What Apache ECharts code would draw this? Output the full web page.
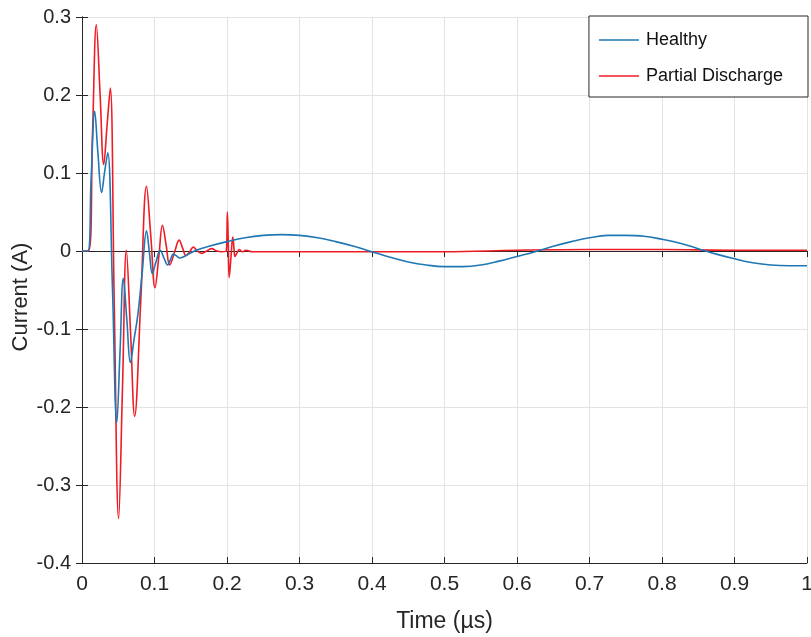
<!DOCTYPE html>
<html>
<head>
<meta charset="utf-8">
<script src="https://cdn.jsdelivr.net/npm/echarts@6/dist/echarts.min.js"></script>
<style>
  html, body { margin: 0; padding: 0; background: #fff; }
  #chart { width: 811px; height: 637px; }
</style>
</head>
<body>
<div id="chart"></div>
<script>
// Sampled current waveforms (time in µs, current in A)
const healthyTime = [
  0, 0.008, 0.0125, 0.0175, 0.022, 0.027, 0.031, 0.0355, 0.042, 0.048,
  0.0525, 0.057, 0.062, 0.0667, 0.072, 0.077, 0.083, 0.089, 0.093, 0.097,
  0.102, 0.108, 0.113, 0.118, 0.122, 0.126, 0.130, 0.135, 0.141, 0.147,
  0.158, 0.175, 0.2, 0.225, 0.25, 0.275, 0.3, 0.325, 0.35, 0.375,
  0.4, 0.425, 0.45, 0.475, 0.5, 0.525, 0.55, 0.575, 0.6, 0.625,
  0.65, 0.675, 0.7, 0.725, 0.75, 0.775, 0.8, 0.825, 0.85, 0.875,
  0.9, 0.925, 0.95, 0.975, 1.0
];
const healthyCurrent = [
  0, 0, 0.09, 0.179, 0.125, 0.075, 0.100, 0.126, -0.047, -0.220,
  -0.128, -0.035, -0.090, -0.143, -0.112, -0.082, -0.028, 0.026, -0.002, -0.029,
  -0.014, 0.001, -0.009, -0.018, -0.011, -0.004, -0.006, -0.009, -0.007, -0.004,
  0.001, 0.006, 0.012, 0.017, 0.020, 0.021, 0.020, 0.017, 0.012, 0.006,
  -0.001, -0.008, -0.014, -0.018, -0.020, -0.020, -0.018, -0.013, -0.007, -0.001,
  0.006, 0.012, 0.017, 0.020, 0.020, 0.019, 0.015, 0.010, 0.003, -0.004,
  -0.010, -0.015, -0.018, -0.019, -0.019
];

const pdTime = [
  0, 0.009, 0.0145, 0.0198, 0.025, 0.030, 0.0345, 0.039, 0.0445, 0.0505,
  0.056, 0.0612, 0.067, 0.0726, 0.081, 0.089, 0.095, 0.1007, 0.106, 0.111,
  0.116, 0.121, 0.1275, 0.134, 0.1387, 0.1434, 0.1485, 0.1535, 0.159, 0.165,
  0.172, 0.179, 0.186, 0.193, 0.199, 0.2005, 0.2018, 0.203, 0.2055, 0.208,
  0.2095, 0.211, 0.214, 0.217, 0.221, 0.226, 0.235, 0.25, 0.3, 0.4,
  0.5, 0.6, 0.7, 0.8, 0.9, 1.0
];
const pdCurrent = [
  0, 0, 0.15, 0.290, 0.200, 0.111, 0.160, 0.209, -0.070, -0.343,
  -0.170, 0.001, -0.105, -0.212, -0.065, 0.083, 0.018, -0.047, -0.007, 0.033,
  0.008, -0.018, -0.002, 0.014, 0.004, -0.006, -0.001, 0.005, 0.000, -0.003,
  0.000, 0.003, 0.000, -0.001, 0.000, 0.050, 0.008, -0.034, -0.008, 0.018,
  0.005, -0.007, -0.002, 0.002, -0.001, 0.001, -0.001, -0.001, -0.001, -0.001,
  -0.001, 0.001, 0.002, 0.002, 0.001, 0.001
];

const xTicks = { min: 0, max: 1, step: 0.1 };
const yTicks = { min: -0.4, max: 0.3, step: 0.1 };

const pairs = (xs, ys) => xs.map((x, i) => [x, ys[i]]);

const axisColor = '#262626';
const gridColor = '#e3e3e3';
const fontFamily = "'Liberation Sans', Arial, sans-serif";
const healthyColor = '#1f77b4';
const pdColor = '#ee1c24';

const chart = echarts.init(document.getElementById('chart'), null, { renderer: 'canvas' });

const baseAxis = {
  axisLine: { show: true, onZero: false, lineStyle: { color: axisColor, width: 1 } },
  axisTick: { show: true, inside: true, length: 6, lineStyle: { color: axisColor } },
  splitLine: { show: true, lineStyle: { color: gridColor, width: 1 } },
  axisLabel: { color: axisColor, fontSize: 20, fontFamily: fontFamily }
};

chart.setOption({
  animation: false,
  backgroundColor: '#ffffff',
  grid: { left: 82, right: 4, top: 17, bottom: 74, containLabel: false, outerBoundsMode: 'none' },
  legend: {
    orient: 'vertical',
    right: 3,
    top: 16,
    padding: [15, 25, 12, 10],
    icon: 'rect',
    itemWidth: 40,
    itemHeight: 1.5,
    itemGap: 18,
    backgroundColor: '#ffffff',
    borderColor: axisColor,
    borderWidth: 1,
    borderRadius: 0,
    textStyle: { color: '#111', fontSize: 18, fontFamily: fontFamily, padding: [0, 0, 0, 2] },
    data: ['Healthy', 'Partial Discharge']
  },
  xAxis: [
    Object.assign({}, baseAxis, {
      type: 'value',
      min: xTicks.min, max: xTicks.max, interval: xTicks.step,
      name: 'Time (\u00b5s)',
      nameLocation: 'middle',
      nameGap: 47,
      nameMoveOverlap: false,
      nameTextStyle: { color: axisColor, fontSize: 23, fontFamily: fontFamily },
      axisLabel: Object.assign({}, baseAxis.axisLabel, {
        fontSize: 21,
        margin: 11,
        formatter: v => (Math.round(v * 10) / 10).toString()
      })
    }),
    {
      type: 'value', position: 'top',
      min: xTicks.min, max: xTicks.max, interval: xTicks.step,
      axisLine: { show: true, lineStyle: { color: axisColor } },
      axisTick: { show: true, inside: true, length: 6, lineStyle: { color: axisColor } },
      axisLabel: { show: false },
      splitLine: { show: false }
    }
  ],
  yAxis: [
    Object.assign({}, baseAxis, {
      type: 'value',
      min: yTicks.min, max: yTicks.max, interval: yTicks.step,
      name: 'Current (A)',
      nameLocation: 'middle',
      nameGap: 50,
      nameMoveOverlap: false,
      nameTextStyle: { color: axisColor, fontSize: 22, fontFamily: fontFamily, padding: [0, 14, 0, 0] },
      axisLabel: Object.assign({}, baseAxis.axisLabel, {
        margin: 11,
        formatter: v => (Math.round(v * 10) / 10).toString()
      })
    }),
    {
      type: 'value', position: 'right',
      min: yTicks.min, max: yTicks.max, interval: yTicks.step,
      axisLine: { show: true, lineStyle: { color: axisColor } },
      axisTick: { show: true, inside: true, length: 6, lineStyle: { color: axisColor } },
      axisLabel: { show: false },
      splitLine: { show: false }
    }
  ],
  series: [
    {
      name: 'Healthy',
      type: 'line',
      data: pairs(healthyTime, healthyCurrent),
      showSymbol: false,
      symbol: 'none',
      smooth: 0.4,
      lineStyle: { color: healthyColor, width: 1.6 },
      itemStyle: { color: healthyColor },
      z: 3
    },
    {
      name: 'Partial Discharge',
      type: 'line',
      data: pairs(pdTime, pdCurrent),
      showSymbol: false,
      symbol: 'none',
      smooth: 0.4,
      lineStyle: { color: pdColor, width: 1.6 },
      itemStyle: { color: pdColor },
      z: 2
    }
  ]
});
</script>
</body>
</html>
